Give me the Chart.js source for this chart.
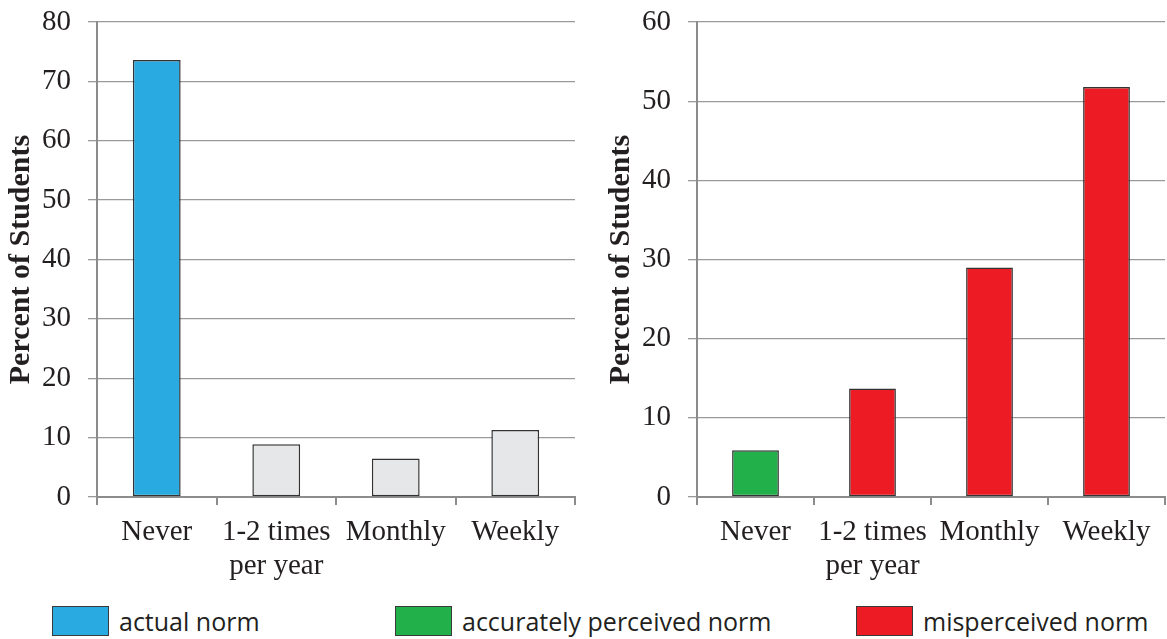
<!DOCTYPE html>
<html>
<head>
<meta charset="utf-8">
<script src="https://cdn.jsdelivr.net/npm/chart.js@4"></script>
<style>
    body { margin: 0; background: #fff; }
    #wrap { position: relative; width: 1167px; height: 639px; overflow: hidden; }
    #left { position: absolute; left: 0; top: 0; }
    #right { position: absolute; left: 600px; top: 0; }
    .key { position: absolute; top: 606px; height: 30px; display: flex; align-items: center;
           font-family: "Open Sans", sans-serif; font-size: 25px; color: #231f20; }
    .key span.box { display: inline-block; width: 55px; height: 28px; border: 1px solid #3a3a3a;
                    margin-right: 10px; }
</style>
</head>
<body>
<div id="wrap">
    <canvas id="left" width="590" height="600"></canvas>
    <canvas id="right" width="567" height="600"></canvas>
    <div class="key" style="left:52px"><span class="box" style="background:#29abe2"></span>actual norm</div>
    <div class="key" style="left:395px"><span class="box" style="background:#22b04b"></span>accurately perceived norm</div>
    <div class="key" style="left:856px"><span class="box" style="background:#ed1c24"></span>misperceived norm</div>
</div>
<script>
// data
const categories = ["Never", ["1-2 times", "per year"], "Monthly", "Weekly"];
const actualValues = [73.6, 8.9, 6.5, 11.3];
const perceivedValues = [5.9, 13.7, 29.0, 51.8];
const actualColors = ["#29abe2", "#e6e7e8", "#e6e7e8", "#e6e7e8"];
const perceivedColors = ["#22b04b", "#ed1c24", "#ed1c24", "#ed1c24"];
const leftMax = 80;
const rightMax = 60;
const tickStep = 10;
const axisTitle = "Percent of Students";

Chart.defaults.color = "#231f20";
Chart.defaults.font.family = "'Liberation Serif', 'Times New Roman', serif";
Chart.defaults.font.size = 29;

function makeChart(id, values, colors, max, padRight) {
    const ctx = document.getElementById(id).getContext("2d");
    return new Chart(ctx, {
        type: "bar",
        data: {
            labels: categories,
            datasets: [{
                data: values,
                backgroundColor: colors,
                borderColor: "#333333",
                borderWidth: 1.5,
                borderSkipped: false,
                barPercentage: 0.4,
                categoryPercentage: 1
            }]
        },
        options: {
            responsive: false,
            animation: false,
            layout: { padding: { top: 22, right: padRight, left: 0, bottom: 0 } },
            plugins: { legend: { display: false }, tooltip: { enabled: false } },
            scales: {
                x: {
                    grid: { offset: true, drawOnChartArea: false, drawTicks: true, tickLength: 8, color: "#8c8c8c", lineWidth: 2 },
                    border: { color: "#8c8c8c", width: 2 },
                    ticks: { padding: 11, maxRotation: 0, font: { size: 29, lineHeight: 1.15 } },
                    afterFit: function (scale) { scale.height = 103; }
                },
                y: {
                    min: 0,
                    max: max,
                    grid: { color: "#9a9a9a", lineWidth: 1.3, tickLength: 9 },
                    border: { color: "#8c8c8c", width: 2 },
                    ticks: { stepSize: tickStep, padding: 17, font: { size: 29 } },
                    title: {
                        display: true,
                        text: axisTitle,
                        font: { size: 30, weight: "bold" },
                        padding: { top: 3, bottom: 4 }
                    },
                    afterFit: function (scale) {
                        scale.width = 97;
                        // let the layout padding decide where the plot starts
                        scale.paddingTop = 0;
                        scale.paddingBottom = 0;
                    }
                }
            }
        }
    });
}

const leftChart = makeChart("left", actualValues, actualColors, leftMax, 15);
const rightChart = makeChart("right", perceivedValues, perceivedColors, rightMax, 2);
</script>
</body>
</html>
